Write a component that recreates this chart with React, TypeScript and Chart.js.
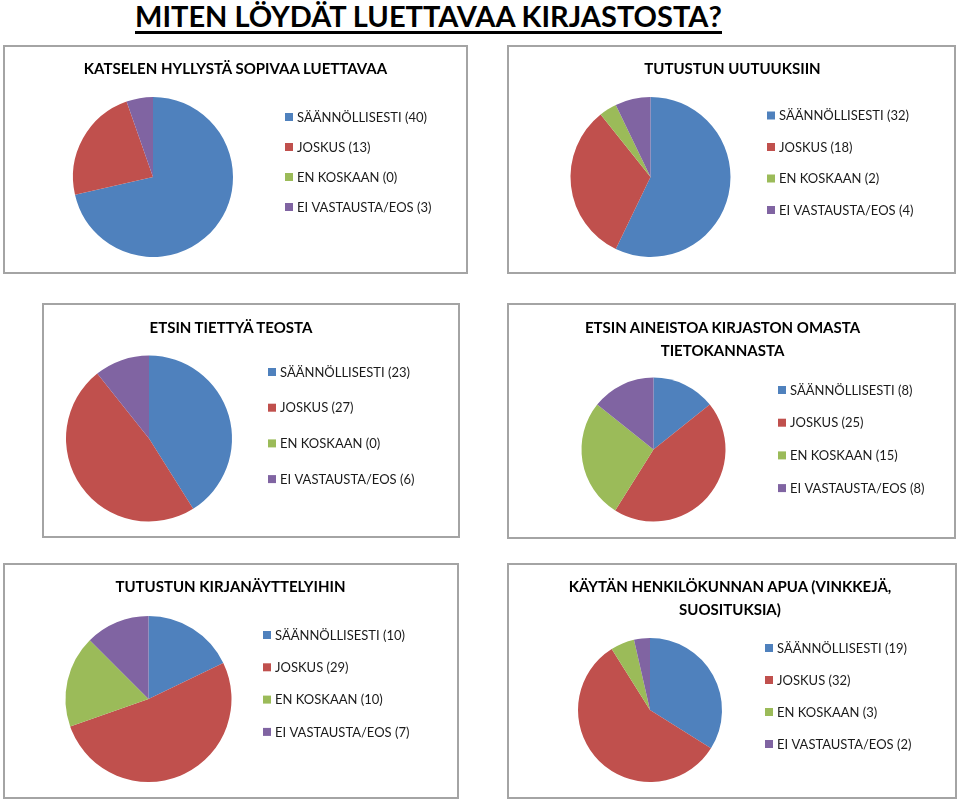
import React, { useEffect, useRef } from "react";
import { Chart, registerables } from "chart.js";

Chart.register(...registerables);

// ---------- data ----------
const pageTitle = "MITEN LÖYDÄT LUETTAVAA KIRJASTOSTA?";
const categories = ["SÄÄNNÖLLISESTI", "JOSKUS", "EN KOSKAAN", "EI VASTAUSTA/EOS"];
const sliceColors = ["#4F81BD", "#C0504D", "#9BBB59", "#8064A2"];

const titleHyllysta = ["KATSELEN HYLLYSTÄ SOPIVAA LUETTAVAA"];
const valuesHyllysta = [40, 13, 0, 3];

const titleUutuudet = ["TUTUSTUN UUTUUKSIIN"];
const valuesUutuudet = [32, 18, 2, 4];

const titleTeos = ["ETSIN TIETTYÄ TEOSTA"];
const valuesTeos = [23, 27, 0, 6];

const titleTietokanta = ["ETSIN AINEISTOA KIRJASTON OMASTA", "TIETOKANNASTA"];
const valuesTietokanta = [8, 25, 15, 8];

const titleNayttelyt = ["TUTUSTUN KIRJANÄYTTELYIHIN"];
const valuesNayttelyt = [10, 29, 10, 7];

const titleHenkilokunta = ["KÄYTÄN HENKILÖKUNNAN APUA (VINKKEJÄ,", "SUOSITUKSIA)"];
const valuesHenkilokunta = [19, 32, 3, 2];

// ---------- layout (page coordinates) ----------
type PanelLayout = {
  box: [number, number, number, number]; // left, top, right, bottom
  titleX: number;
  titleY: number; // cap centre of first line
  pie: [number, number, number]; // cx, cy, r
  legend: [number, number, number]; // square left x, first item centre y, step
};

const sideLegend = {
  id: "sideLegend",
  afterDraw(chart: any, _args: any, opts: any) {
    const { ctx } = chart;
    const labels = chart.data.labels as string[];
    const bg = chart.data.datasets[0].backgroundColor as string[];
    ctx.save();
    ctx.font = "13px Lato";
    ctx.textBaseline = "alphabetic";
    ctx.textAlign = "left";
    labels.forEach((lab: string, i: number) => {
      const cy = opts.y + i * opts.step;
      ctx.fillStyle = bg[i];
      ctx.fillRect(opts.x, cy - 4, 8, 8);
      ctx.fillStyle = "#1a1a1a";
      ctx.fillText(lab, opts.x + 12, cy + 4.7);
    });
    ctx.restore();
  },
};

function PiePanel({ title, values, layout }: { title: string[]; values: number[]; layout: PanelLayout }) {
  const ref = useRef<HTMLCanvasElement | null>(null);
  const [l, t, r, b] = layout.box;
  const w = r - l + 1;
  const h = b - t + 1;

  useEffect(() => {
    if (!ref.current) return;
    const [cx, cy, rad] = layout.pie;
    const px = cx - l;
    const py = cy - t;
    const chart = new Chart(ref.current, {
      type: "pie",
      data: {
        labels: categories.map((c, i) => `${c} (${values[i]})`),
        datasets: [
          {
            data: values,
            backgroundColor: sliceColors,
            borderWidth: 0,
          },
        ],
      },
      options: {
        responsive: false,
        animation: false,
        layout: {
          padding: {
            left: px - rad,
            top: py - rad,
            right: w - (px + rad),
            bottom: h - (py + rad),
          },
        },
        plugins: {
          legend: { display: false },
          title: { display: false },
          tooltip: { enabled: false },
          // @ts-ignore
          sideLegend: {
            x: layout.legend[0] - l,
            y: layout.legend[1] - t,
            step: layout.legend[2],
          },
        },
      },
      plugins: [sideLegend as any],
    });
    return () => chart.destroy();
  }, []);

  return (
    <div style={{ position: "absolute", left: l, top: t, width: w, height: h, background: "#fff" }}>
      <canvas ref={ref} width={w} height={h} style={{ position: "absolute", left: 0, top: 0 }} />
      <div
        style={{
          position: "absolute",
          left: layout.titleX - l,
          top: layout.titleY - t - 11.4,
          transform: "translateX(-50%)",
          font: "bold 15px Lato",
          lineHeight: "22.5px",
          whiteSpace: "nowrap",
          textAlign: "center",
          color: "#000",
        }}
      >
        {title.map((line, i) => (
          <div key={i}>{line}</div>
        ))}
      </div>
      <div
        style={{
          position: "absolute",
          inset: 0,
          border: "2px solid #a4a4a4",
          boxSizing: "border-box",
          pointerEvents: "none",
        }}
      />
    </div>
  );
}

export default function App() {
  return (
    <div style={{ position: "absolute", left: 0, top: 0, width: 960, height: 799, background: "#fff", overflow: "hidden" }}>
      <div style={{ position: "absolute", left: 135, top: 0 }}>
        <span
          style={{
            display: "inline-block",
            font: "bold 29px Lato",
            lineHeight: "31px",
            borderBottom: "3px solid #000",
            whiteSpace: "nowrap",
            color: "#000",
          }}
        >
          {pageTitle}
        </span>
      </div>
      <PiePanel
        title={titleHyllysta}
        values={valuesHyllysta}
        layout={{ box: [3, 45, 467, 273], titleX: 235.5, titleY: 68, pie: [153, 177, 80], legend: [285, 117, 30] }}
      />
      <PiePanel
        title={titleUutuudet}
        values={valuesUutuudet}
        layout={{ box: [507, 45, 955, 273], titleX: 732.5, titleY: 68, pie: [650.5, 177, 80], legend: [767, 115.5, 31.5] }}
      />
      <PiePanel
        title={titleTeos}
        values={valuesTeos}
        layout={{ box: [42, 303, 459, 537], titleX: 231, titleY: 327, pie: [149, 438.5, 83], legend: [268, 372, 35.7] }}
      />
      <PiePanel
        title={titleTietokanta}
        values={valuesTietokanta}
        layout={{ box: [507, 303, 955, 538], titleX: 722.5, titleY: 327.8, pie: [653.5, 449.5, 72], legend: [778, 390, 32.7] }}
      />
      <PiePanel
        title={titleNayttelyt}
        values={valuesNayttelyt}
        layout={{ box: [3, 563, 458, 798], titleX: 230.5, titleY: 586.7, pie: [148.5, 699, 83], legend: [263, 635, 32.3] }}
      />
      <PiePanel
        title={titleHenkilokunta}
        values={valuesHenkilokunta}
        layout={{ box: [507, 563, 956, 798], titleX: 730, titleY: 586.5, pie: [650, 710, 72], legend: [765, 648, 32] }}
      />
    </div>
  );
}
